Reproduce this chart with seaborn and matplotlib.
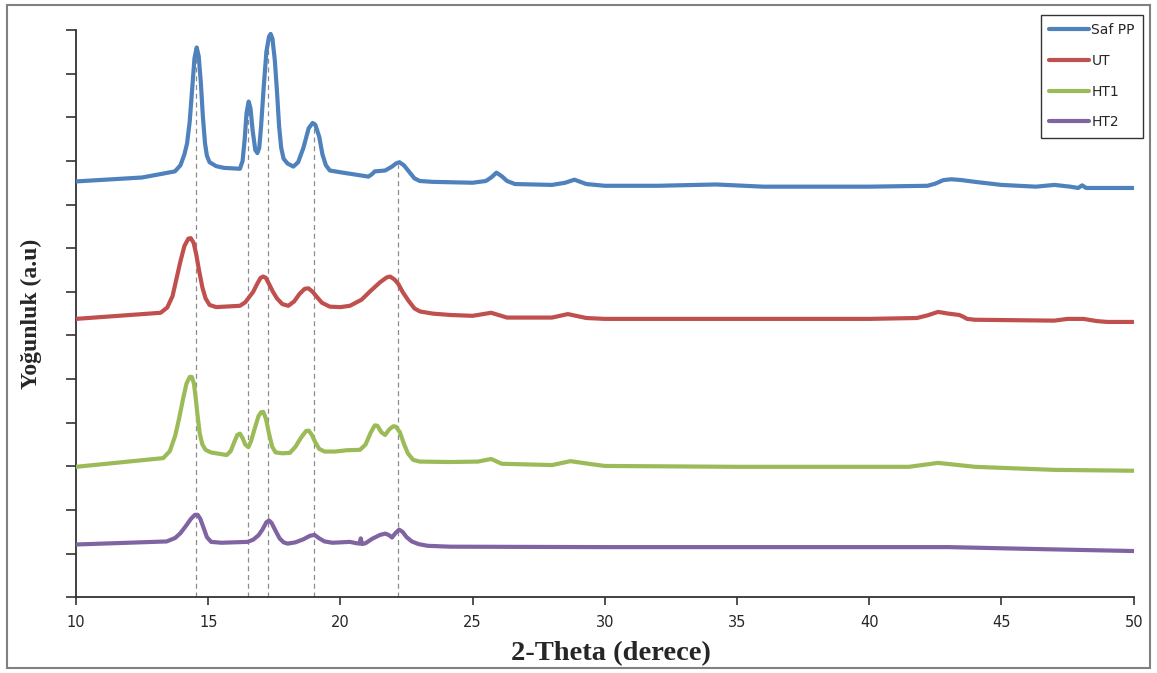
import numpy as np
import pandas as pd
import matplotlib
matplotlib.use("Agg")
import matplotlib.pyplot as plt
import matplotlib.patches as mpatches
import seaborn as sns

# ── data (2-theta in degrees, intensity in arbitrary units) ──
saf_pp_x = [10.0, 12.5, 13.74, 13.95, 14.1, 14.2, 14.3, 14.4, 14.48, 14.565, 14.64, 14.72,
            14.8, 14.88, 14.95, 15.05, 15.3, 15.6, 16.2, 16.3, 16.38, 16.45, 16.53, 16.6,
            16.68, 16.78, 16.86, 16.93, 17.0, 17.1, 17.2, 17.3, 17.36, 17.43, 17.52, 17.6,
            17.68, 17.76, 17.85, 18.0, 18.22, 18.4, 18.6, 18.8, 18.95, 19.05, 19.2, 19.32,
            19.45, 19.6, 20.0, 21.06, 21.2, 21.3, 21.69, 21.95, 22.1, 22.23, 22.4, 22.6,
            22.8, 23.0, 23.5, 25.0, 25.5, 25.7, 25.9, 26.1, 26.3, 26.6, 28.0, 28.5, 28.85,
            29.3, 30.0, 32.0, 34.2, 36.0, 40.0, 42.2, 42.5, 42.8, 43.1, 43.5, 44.0, 45.0,
            46.3, 47.0, 47.6, 47.9, 48.05, 48.2, 50.0]
saf_pp_y = [953, 962, 976, 990, 1015, 1040, 1090, 1170, 1235, 1260, 1240, 1180,
            1100, 1040, 1012, 997, 988, 984, 982, 1000, 1050, 1110, 1136, 1120,
            1070, 1025, 1018, 1030, 1080, 1170, 1250, 1285, 1291, 1280, 1230, 1160,
            1080, 1030, 1005, 994, 987, 997, 1030, 1075, 1087, 1083, 1055, 1015,
            990, 978, 974, 964, 970, 976, 978, 987, 994, 997, 990, 975,
            960, 954, 952, 950, 954, 962, 973, 965, 954, 947, 945, 950, 957,
            947, 943, 943, 946, 941, 941, 943, 948, 956, 958, 956, 952, 945,
            941, 945, 941, 938, 944, 938, 938]

ut_x = [10.0, 13.2, 13.45, 13.65, 13.8, 13.95, 14.1, 14.25, 14.34, 14.45, 14.55, 14.65,
        14.78, 14.9, 15.05, 15.3, 16.2, 16.4, 16.55, 16.7, 16.85, 16.98, 17.08, 17.18,
        17.3, 17.45, 17.6, 17.8, 18.03, 18.25, 18.45, 18.65, 18.79, 18.95, 19.1, 19.3,
        19.6, 20.0, 20.36, 20.8, 21.12, 21.5, 21.75, 21.88, 22.05, 22.19, 22.35, 22.57,
        22.8, 23.01, 23.5, 24.15, 25.0, 25.7, 26.3, 28.0, 28.6, 29.3, 30.0, 40.0, 41.8,
        42.2, 42.6, 43.0, 43.4, 43.55, 43.7, 44.0, 47.0, 47.5, 48.1, 48.6, 49.0, 50.0]
ut_y = [638, 652, 664, 690, 730, 770, 805, 822, 823, 812, 785, 750,
        710, 685, 670, 665, 668, 676, 688, 700, 718, 732, 735, 732,
        718, 700, 685, 672, 668, 678, 695, 707, 708, 700, 689, 675,
        666, 665, 668, 682, 701, 722, 733, 735, 728, 718, 700, 680,
        662, 655, 650, 647, 645, 652, 641, 641, 649, 640, 638, 638, 640,
        646, 654, 650, 647, 643, 638, 636, 634, 638, 638, 633, 631, 631]

ht1_x = [10.0, 13.3, 13.55, 13.75, 13.9, 14.05, 14.18, 14.3, 14.38, 14.46, 14.53, 14.6,
         14.68, 14.78, 14.9, 15.1, 15.7, 15.85, 15.98, 16.1, 16.2, 16.3, 16.4, 16.52,
         16.62, 16.75, 16.9, 17.0, 17.08, 17.18, 17.3, 17.42, 17.55, 17.8, 18.09, 18.3,
         18.5, 18.7, 18.8, 18.92, 19.05, 19.2, 19.4, 19.8, 20.24, 20.74, 20.95, 21.15,
         21.3, 21.4, 21.55, 21.69, 21.85, 22.0, 22.1, 22.25, 22.4, 22.55, 22.75, 23.0,
         24.15, 25.2, 25.7, 26.1, 28.0, 28.7, 29.5, 30.0, 35.0, 41.5, 42.6, 44.0, 47.0,
         50.0]
ht1_y = [299, 319, 335, 370, 410, 455, 490, 505, 505, 490, 455, 415,
         375, 350, 338, 332, 326, 335, 355, 372, 375, 365, 350, 344,
         358, 385, 415, 424, 425, 410, 375, 345, 332, 330, 331, 345,
         365, 381, 382, 372, 355, 340, 334, 334, 337, 338, 350, 378,
         394, 393, 378, 372, 385, 392, 391, 378, 352, 330, 315, 311,
         310, 311, 317, 306, 303, 312, 305, 301, 299, 299, 308, 299, 292,
         290]

ht2_x = [10.0, 13.43, 13.75, 13.95, 14.15, 14.35, 14.5, 14.6, 14.7, 14.82, 14.95, 15.11,
         15.5, 16.49, 16.7, 16.9, 17.05, 17.2, 17.3, 17.4, 17.55, 17.7, 17.85, 18.0,
         18.3, 18.6, 18.85, 19.02, 19.2, 19.4, 19.7, 20.36, 20.6, 20.72, 20.77, 20.82,
         20.95, 21.2, 21.5, 21.7, 21.85, 21.95, 22.08, 22.22, 22.35, 22.5, 22.7, 22.95,
         23.3, 24.15, 30.0, 43.0, 46.0, 50.0]
ht2_y = [121, 128, 136, 147, 163, 180, 189, 189, 180, 160, 138, 127,
         125, 127, 132, 142, 155, 172, 176, 170, 152, 135, 126, 123,
         126, 133, 141, 143, 135, 128, 125, 127, 124, 123, 135, 122,
         124, 134, 143, 146, 142, 137, 147, 155, 150, 138, 128, 122,
         118, 116, 115, 115, 111, 106]

series_names = ["Saf PP", "UT", "HT1", "HT2"]
series_colors = ["#4F81BD", "#C0504D", "#9BBB59", "#8064A2"]

# dashed reference lines at the main PP reflections
ref_peaks = [14.54, 16.52, 17.25, 19.0, 22.19]
ref_tops = [1243, 1122, 1278, 1076, 991]

frames = []
for name, xs, ys in zip(series_names,
                        [saf_pp_x, ut_x, ht1_x, ht2_x],
                        [saf_pp_y, ut_y, ht1_y, ht2_y]):
    frames.append(pd.DataFrame({"theta": xs, "intensity": ys, "seri": name}))
df = pd.concat(frames, ignore_index=True)

sns.set_style("white")
plt.rcParams["font.family"] = ["DejaVu Sans"]

fig = plt.figure(figsize=(11.57, 6.73), dpi=100)
ax = fig.add_axes([76 / 1157, 1 - 597.3 / 673, (1133.7 - 76) / 1157, (597.3 - 30) / 673])

ax.vlines(ref_peaks, 0, ref_tops, colors="#8c8c8c", linestyles=(0, (4, 3)),
          linewidth=0.9, zorder=1)

sns.lineplot(data=df, x="theta", y="intensity", hue="seri", hue_order=series_names,
             palette=series_colors, estimator=None, sort=False, linewidth=3.0,
             ax=ax, legend=False, zorder=3)
for ln in ax.get_lines():
    ln.set_solid_joinstyle("round")
    ln.set_solid_capstyle("round")

ax.set_xlim(10, 50)
ax.set_ylim(0, 1300)
ax.set_xticks(np.arange(10, 51, 5))
ax.set_yticks(np.arange(0, 1301, 100))
ax.set_yticklabels([])
ax.tick_params(axis="x", direction="out", length=6, width=1.2, pad=7,
               labelsize=10.5, color="#333333", bottom=True)
ax.tick_params(axis="y", direction="out", length=7, width=1.2, color="#333333", left=True)
for s in ["top", "right"]:
    ax.spines[s].set_visible(False)
for s in ["left", "bottom"]:
    ax.spines[s].set_color("#333333")
    ax.spines[s].set_linewidth(1.3)

ax.set_xlabel("2-Theta (derece)", family="Liberation Serif", fontweight="bold",
              fontsize=20.5, labelpad=7)
ax.xaxis.set_label_coords(0.506, -0.077)
ax.set_ylabel("Yoğunluk (a.u)", family="Liberation Serif", fontweight="bold",
              fontsize=17, labelpad=14)

handles = [plt.Line2D([], [], color=c, lw=3) for c in series_colors]
leg = fig.legend(handles, series_names, loc="upper right",
                 bbox_to_anchor=(1143.3 / 1157, 1 - 15 / 673), bbox_transform=fig.transFigure,
                 frameon=True, fancybox=False, fontsize=10, handlelength=2.9,
                 handletextpad=0.15, labelspacing=1.2, borderpad=0.6, borderaxespad=0)
leg.get_frame().set_edgecolor("black")
leg.get_frame().set_linewidth(1.0)

# outer chart border
fig.patches.append(mpatches.Rectangle((7 / 1157, 1 - 668 / 673), (1150 - 7) / 1157,
                                      (668 - 5) / 673, transform=fig.transFigure,
                                      fill=False, edgecolor="#808080", linewidth=1.5))

fig.savefig("out.png", dpi=100)
